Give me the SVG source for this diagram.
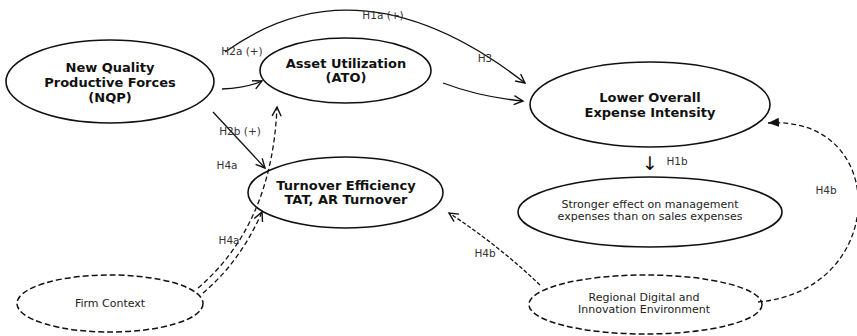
<svg xmlns="http://www.w3.org/2000/svg" width="857" height="336" viewBox="0 0 857 336">
<defs>
<marker id="open" markerUnits="userSpaceOnUse" markerWidth="12" markerHeight="12" viewBox="0 0 12 12" refX="10" refY="6" orient="auto">
<path d="M1,1.5 L10,6 L1,10.5" fill="none" stroke="#111" stroke-width="1.4"/>
</marker>
<marker id="filled" markerUnits="userSpaceOnUse" markerWidth="12" markerHeight="12" viewBox="0 0 12 12" refX="11" refY="6" orient="auto">
<path d="M0,1.5 L11,6 L0,10.5 Z" fill="#111" stroke="none"/>
</marker>
</defs>
<style>
.node{fill:#fff;stroke:#111;stroke-width:1.6}
.dnode{fill:#fff;stroke:#111;stroke-width:1.5;stroke-dasharray:6,3}
.t{font-family:"DejaVu Sans",sans-serif;text-anchor:middle;fill:#111}
.b{font-weight:bold;font-size:13px}
.r{font-size:11px;fill:#222}
.lab{font-family:"DejaVu Sans",sans-serif;font-size:10.5px;fill:#333;text-anchor:middle}
.c{fill:none;stroke:#111;stroke-width:1.3}
.dc{fill:none;stroke:#111;stroke-width:1.3;stroke-dasharray:5,3}
</style>
<rect width="857" height="336" fill="#fff"/>
<g id="nqp">
<ellipse class="node" cx="110" cy="81.5" rx="104" ry="41.5"/>
<text class="t b" x="110" y="72">New Quality</text>
<text class="t b" x="110" y="87">Productive Forces</text>
<text class="t b" x="110" y="102">(NQP)</text>
</g>
<g id="ato">
<ellipse class="node" cx="345.5" cy="70.5" rx="85.5" ry="32.5"/>
<text class="t b" x="346" y="68">Asset Utilization</text>
<text class="t b" x="346" y="82">(ATO)</text>
</g>
<g id="lower">
<ellipse class="node" cx="650" cy="104.5" rx="120" ry="42.5"/>
<text class="t b" x="650" y="102">Lower Overall</text>
<text class="t b" x="650" y="117">Expense Intensity</text>
</g>
<g id="turnover">
<ellipse class="node" cx="345.5" cy="192.5" rx="97.5" ry="35.5"/>
<text class="t b" x="346" y="190">Turnover Efficiency</text>
<text class="t b" x="346" y="204">TAT, AR Turnover</text>
</g>
<g id="stronger">
<ellipse class="node" cx="650" cy="212" rx="132" ry="35"/>
<text class="t r" x="650" y="208">Stronger effect on management</text>
<text class="t r" x="650" y="220">expenses than on sales expenses</text>
</g>
<g id="firm">
<ellipse class="dnode" cx="110" cy="303.5" rx="93" ry="28.5"/>
<text class="t r" x="110" y="307">Firm Context</text>
</g>
<g id="regional">
<ellipse class="dnode" cx="645.5" cy="304.5" rx="116.5" ry="29.5"/>
<text class="t r" x="644" y="301">Regional Digital and</text>
<text class="t r" x="644" y="313">Innovation Environment</text>
</g>
<g id="connectors">
<path class="c" d="M225,52 Q360,-45 525,83" marker-end="url(#open)"/>
<path class="c" d="M222,89 Q247,88 262,81" marker-end="url(#open)"/>
<path class="c" d="M443,83 Q480,97 523,101" marker-end="url(#open)"/>
<path class="c" d="M213,112 L265,168" marker-end="url(#open)"/>
<path class="dc" d="M198,288 Q272,225 277,107" marker-end="url(#open)"/>
<path class="dc" d="M203,293 Q240,262 262,212" marker-end="url(#open)"/>
<path class="c" style="stroke-dasharray:4,2" d="M540,285 Q498,245 449,213" marker-end="url(#open)"/>
<path class="dc" d="M758,302 C890,290 890,115 768,123" marker-end="url(#filled)"/>
</g>
<g id="labels">
<text class="lab" x="383" y="19">H1a (+)</text>
<text class="lab" x="242" y="55">H2a (+)</text>
<text class="lab" x="485" y="62">H3</text>
<text class="lab" x="240" y="135">H2b (+)</text>
<text class="lab" x="227" y="169">H4a</text>
<text class="lab" x="229" y="244">H4a</text>
<text class="lab" x="485" y="257">H4b</text>
<text class="lab" x="826" y="194">H4b</text>
<text class="t" style="font-size:19px" x="650" y="170">↓</text>
<text class="lab" x="677" y="165">H1b</text>
</g>
</svg>
